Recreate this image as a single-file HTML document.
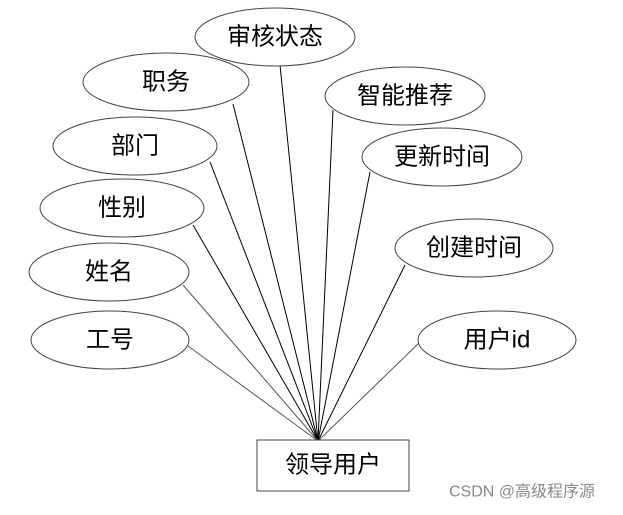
<!DOCTYPE html>
<html><head><meta charset="utf-8"><style>
body{margin:0;background:#fff;width:623px;height:510px;overflow:hidden}
svg text{font-family:"Liberation Sans","Noto Sans CJK SC",sans-serif;font-size:24px;fill:#000;text-anchor:middle;dominant-baseline:central}
</style></head><body>
<svg width="623" height="510" viewBox="0 0 623 510">
<g stroke="#000" stroke-width="1" fill="none">
<line x1="280" y1="65" x2="318" y2="441"/>
<line x1="233" y1="104" x2="318" y2="441"/>
<line x1="333" y1="110" x2="318" y2="441"/>
<line x1="210" y1="162" x2="318" y2="441"/>
<line x1="370" y1="172" x2="318" y2="441"/>
<line x1="193" y1="225" x2="318" y2="441"/>
<line x1="405" y1="265" x2="318" y2="441"/>
<line x1="183" y1="285" x2="318" y2="441" stroke="#555"/>
<line x1="188" y1="346" x2="318" y2="441" stroke="#555"/>
<line x1="420" y1="342" x2="318" y2="441" stroke="#555"/>
</g>
<g stroke="#444" stroke-width="1" fill="#fff">
<ellipse cx="275" cy="37" rx="80" ry="29"/>
<ellipse cx="166" cy="82" rx="83" ry="29"/>
<ellipse cx="405" cy="96" rx="80" ry="29"/>
<ellipse cx="135" cy="146" rx="82" ry="29"/>
<ellipse cx="442" cy="157" rx="80" ry="29"/>
<ellipse cx="122" cy="208" rx="82" ry="29"/>
<ellipse cx="474" cy="248" rx="79" ry="29"/>
<ellipse cx="109" cy="272" rx="80" ry="29"/>
<ellipse cx="110" cy="340" rx="79" ry="29"/>
<ellipse cx="497" cy="340" rx="79" ry="29"/>
<rect x="257" y="440" width="152" height="51"/>
</g>
<text x="275" y="37">审核状态</text>
<text x="166" y="82">职务</text>
<text x="405" y="96">智能推荐</text>
<text x="135" y="146">部门</text>
<text x="442" y="157">更新时间</text>
<text x="122" y="208">性别</text>
<text x="474" y="248">创建时间</text>
<text x="109" y="272">姓名</text>
<text x="110" y="340">工号</text>
<text x="497" y="340">用户id</text>
<text x="333" y="465">领导用户</text>
<text x="522" y="492" style="font-size:16px;fill:#888">CSDN @高级程序源</text>
</svg>
</body></html>
